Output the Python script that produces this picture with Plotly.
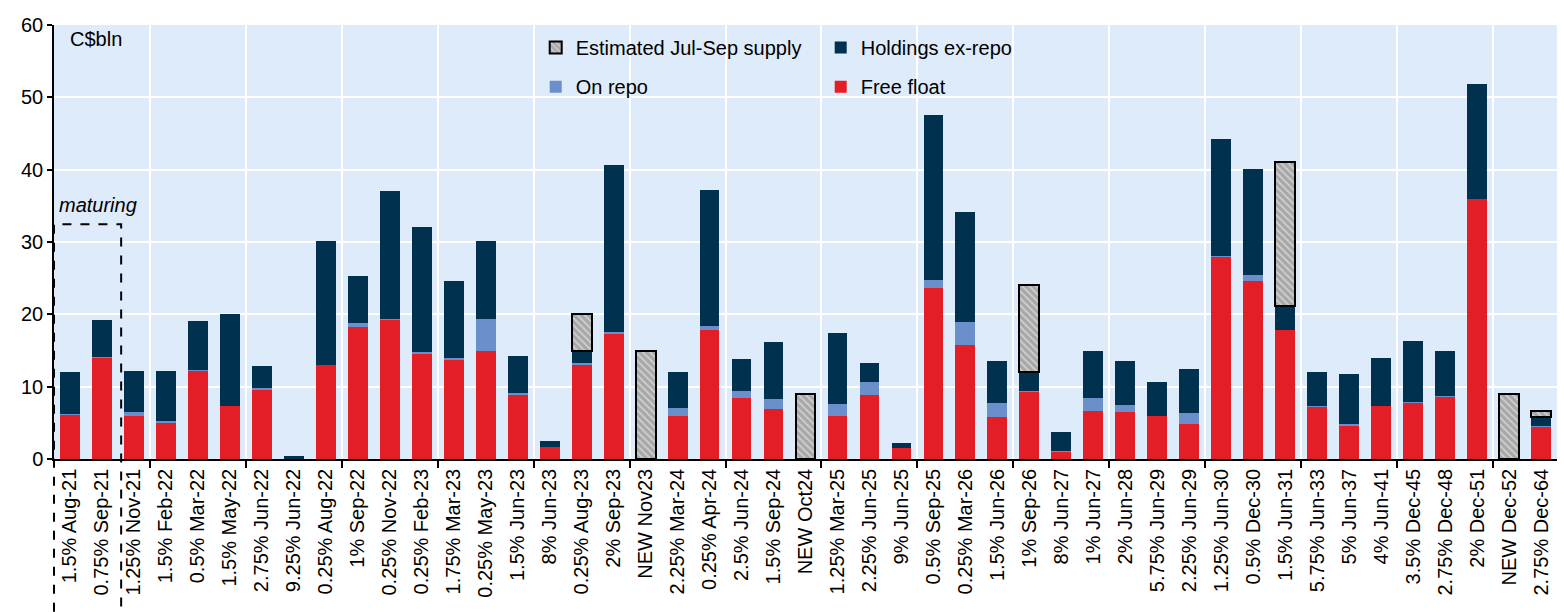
import plotly.graph_objects as go

labels = ["1.5% Aug-21", "0.75% Sep-21", "1.25% Nov-21", "1.5% Feb-22", "0.5% Mar-22",
          "1.5% May-22", "2.75% Jun-22", "9.25% Jun-22", "0.25% Aug-22", "1% Sep-22",
          "0.25% Nov-22", "0.25% Feb-23", "1.75% Mar-23", "0.25% May-23", "1.5% Jun-23",
          "8% Jun-23", "0.25% Aug-23", "2% Sep-23", "NEW Nov23", "2.25% Mar-24",
          "0.25% Apr-24", "2.5% Jun-24", "1.5% Sep-24", "NEW Oct24", "1.25% Mar-25",
          "2.25% Jun-25", "9% Jun-25", "0.5% Sep-25", "0.25% Mar-26", "1.5% Jun-26",
          "1% Sep-26", "8% Jun-27", "1% Jun-27", "2% Jun-28", "5.75% Jun-29",
          "2.25% Jun-29", "1.25% Jun-30", "0.5% Dec-30", "1.5% Jun-31", "5.75% Jun-33",
          "5% Jun-37", "4% Jun-41", "3.5% Dec-45", "2.75% Dec-48", "2% Dec-51",
          "NEW Dec-52", "2.75% Dec-64"]

free_float = [6.1, 14.05, 6.0, 5.0, 12.2, 7.3, 9.6, None, 13.0, 18.25,
              19.3, 14.6, 13.8, 15.0, 8.8, 1.65, 12.95, 17.4, None, 6.0,
              17.9, 8.5, 6.9, None, 5.9, 8.9, 1.5, 23.65, 15.8, 5.8,
              9.35, 1.05, 6.6, 6.45, 5.9, 4.9, 28.0, 24.55, 17.9, 7.3,
              4.55, 7.3, 7.85, 8.65, 35.95, None, 4.5]

on_repo = [0.1, 0.1, 0.5, 0.2, 0.1, None, 0.15, None, None, 0.6,
           0.1, 0.2, 0.1, 4.35, 0.3, None, 0.3, 0.15, None, 1.05,
           0.5, 0.9, 1.45, None, 1.7, 1.75, None, 1.05, 3.15, 1.95,
           0.1, 0.1, 1.9, 1.05, None, 1.5, 0.1, 0.95, None, 0.05,
           0.3, None, 0.05, 0.1, None, None, 0.1]

holdings = [5.8, 5.0, 5.6, 6.9, 6.8, 12.8, 3.05, 0.35, 17.1, 6.45,
            17.7, 17.3, 10.75, 10.75, 5.2, 0.8, 1.75, 23.05, None, 4.95,
            18.75, 4.4, 7.85, None, 9.8, 2.65, 0.7, 22.9, 15.2, 5.8,
            2.55, 2.6, 6.4, 6.1, 4.75, 6.0, 16.2, 14.6, 3.2, 4.72,
            6.95, 6.6, 8.45, 6.25, 15.95, None, 1.2]

est_supply = [None, None, None, None, None, None, None, None, None, None,
              None, None, None, None, None, None, 5.05, None, 15.0, None,
              None, None, None, 9.0, None, None, None, None, None, None,
              12.05, None, None, None, None, None, None, None, 19.9, None,
              None, None, None, None, None, 9.0, 0.9]

RED = "#E31E26"
NAVY = "#00324F"
REPO = "#6B8FCA"
BG = "#DEEBFB"
FONT = "Liberation Sans, Arial, sans-serif"
FS = 20

x = list(range(len(labels)))
BAR_W = 0.62

fig = go.Figure()
fig.add_trace(go.Bar(x=x, y=free_float, name="Free float", marker=dict(color=RED, line=dict(width=0)),
                     width=BAR_W, legend="legend2"))
fig.add_trace(go.Bar(x=x, y=on_repo, name="On repo", marker=dict(color=REPO, line=dict(width=0)),
                     width=BAR_W, legend="legend2"))
fig.add_trace(go.Bar(x=x, y=holdings, name="Holdings ex-repo", marker=dict(color=NAVY, line=dict(width=0)),
                     width=BAR_W, legend="legend"))
fig.add_trace(go.Bar(x=x, y=est_supply, name="Estimated Jul-Sep supply",
                     marker=dict(color="#B0B0B0", line=dict(color="black", width=2),
                                 pattern=dict(shape="\\", fgcolor="white", bgcolor="#A8A8A8",
                                              size=5, solidity=0.3)),
                     width=BAR_W, legend="legend"))

n = len(labels)
xmin, xmax = -0.5, n - 0.5
ymax = 60
grid_bounds = [xmin + 3 * k for k in range(1, n // 3 + 1)]

# dashed "maturing" box around the first two bonds
box_right = 1.6
fig.add_shape(type="rect", xref="paper", yref="paper",
              x0=0, x1=(box_right - xmin) / (xmax - xmin),
              y0=-0.6, y1=32.45 / ymax,
              line=dict(color="black", width=2, dash="dash"), fillcolor="rgba(0,0,0,0)", layer="above")

fig.add_annotation(x=0.002, xref="paper", y=35.1, yref="y", text="<i>maturing</i>",
                   showarrow=False, xanchor="left", yanchor="middle",
                   font=dict(family=FONT, size=FS, color="black"))
fig.add_annotation(x=0.0095, xref="paper", y=58.0, yref="y", text="C$bln",
                   showarrow=False, xanchor="left", yanchor="middle",
                   font=dict(family=FONT, size=FS, color="black"))

fig.update_layout(
    width=1564, height=612,
    margin=dict(l=54, r=7, t=25, b=153),
    paper_bgcolor="white", plot_bgcolor=BG,
    barmode="stack", bargap=0.38,
    font=dict(family=FONT, size=FS, color="black"),
    showlegend=True,
    legend=dict(orientation="h", x=0.3205, y=0.948, xanchor="left", yanchor="middle",
                entrywidth=240, entrywidthmode="pixels", traceorder="reversed",
                bgcolor="rgba(0,0,0,0)", font=dict(family=FONT, size=FS), itemwidth=30),
    legend2=dict(orientation="h", x=0.3205, y=0.858, xanchor="left", yanchor="middle",
                 entrywidth=240, entrywidthmode="pixels", traceorder="reversed",
                 bgcolor="rgba(0,0,0,0)", font=dict(family=FONT, size=FS), itemwidth=30),
    xaxis=dict(range=[xmin, xmax], tickmode="array", tickvals=x, ticktext=labels,
               tickangle=-90, ticks="", showgrid=False, zeroline=False,
               showline=True, linecolor="black", linewidth=1.5,
               tickfont=dict(family=FONT, size=FS, color="black"),
               minor=dict(tickmode="array", tickvals=grid_bounds, ticks="outside", ticklen=7,
                          tickwidth=1.5, tickcolor="black", showgrid=True,
                          gridcolor="white", gridwidth=2)),
    yaxis=dict(range=[0, ymax], dtick=10, tick0=0, showgrid=True, gridcolor="white", gridwidth=2,
               zeroline=False, showline=True, linecolor="black", linewidth=1.5,
               ticks="outside", ticklen=5, tickwidth=1.5, tickcolor="black",
               tickfont=dict(family=FONT, size=FS, color="black")),
)

fig.write_html("out.html")
